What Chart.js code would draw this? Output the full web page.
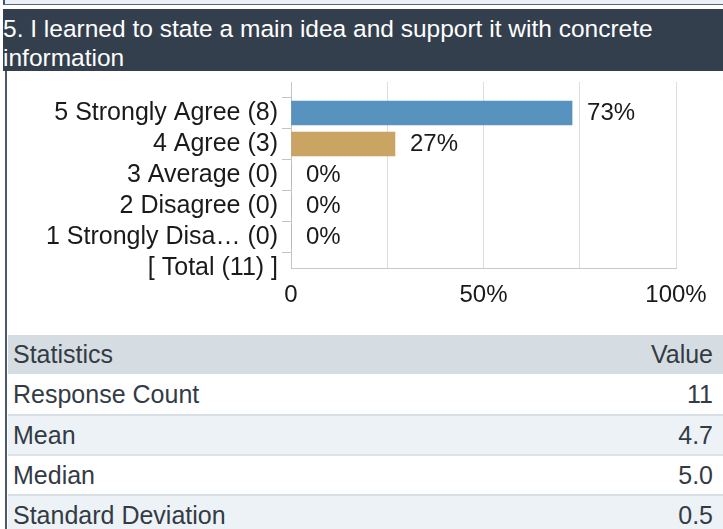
<!DOCTYPE html>
<html>
<head>
<meta charset="utf-8">
<script src="https://cdn.jsdelivr.net/npm/chart.js@4"></script>
<style>
  html, body { margin: 0; padding: 0; background: #fff; }
  body { width: 723px; height: 529px; position: relative; overflow: hidden;
         font-family: "Liberation Sans", Arial, sans-serif; }
  .prev { position: absolute; left: 3px; top: 0; width: 720px; height: 4px;
          background: #eaf0f6; border-left: 2px solid #4a586a; border-bottom: 1px solid #56657a; }
  .head { position: absolute; left: 3px; top: 9px; width: 720px; height: 62px;
          background: #343f4e; color: #fff; font-size: 24.5px; line-height: 29px;
          padding: 5px 0 0 0; box-sizing: border-box; white-space: nowrap; }
  .head span { display: block; }
  .rail { position: absolute; left: 5px; top: 71px; width: 2px; height: 460px; background: #4a586c; }
  .chartbox { position: absolute; left: 0; top: 71px; width: 723px; height: 250px; }
  table { position: absolute; left: 8px; top: 335px; width: 715px; border-collapse: collapse;
          font-size: 25px; color: #333b44; }
  td { padding: 0 10px 0 5px; height: 38px; white-space: nowrap; }
  td.v { text-align: right; }
  tr.th td { background: #d6dde2; height: 39px; }
  tr.w td { background: #ffffff; border-top: 2px solid #dde3e8; }
  tr.l td { background: #edf2f6; border-top: 2px solid #d7dee4; }
  tr.first td { border-top: none; height: 40px; }
</style>
</head>
<body>
<div class="prev"></div>
<div class="head"><span>5. I learned to state a main idea and support it with concrete</span><span>information</span></div>
<div class="rail"></div>
<div class="chartbox"><canvas id="c" width="723" height="250"></canvas></div>
<table>
  <tr class="th"><td>Statistics</td><td class="v">Value</td></tr>
  <tr class="w first"><td>Response Count</td><td class="v">11</td></tr>
  <tr class="l"><td>Mean</td><td class="v">4.7</td></tr>
  <tr class="w"><td>Median</td><td class="v">5.0</td></tr>
  <tr class="l"><td>Standard Deviation</td><td class="v">0.5</td></tr>
</table>
<script>
// Answer options with their response counts, and the share of each
const categories = ['5 Strongly Agree (8)', '4 Agree (3)', '3 Average (0)', '2 Disagree (0)', '1 Strongly Disa\u2026 (0)', '[ Total (11) ]'];
const percents = [73, 27, 0, 0, 0, null];
const barColors = ['#5893bf', '#c9a462', '#9aa', '#9aa', '#9aa', '#9aa'];
const xTickLabels = {0: '0', 50: '50%', 100: '100%'};

// Leading blank slot so the rows sit one step below the top of the plot
const labels = [''].concat(categories);
const values = [null].concat(percents);
const colors = ['#000'].concat(barColors);

const FONT = '"Liberation Sans", Arial, sans-serif';

const valueLabels = {
  id: 'valueLabels',
  afterDatasetsDraw(chart) {
    const ctx = chart.ctx;
    const meta = chart.getDatasetMeta(0);
    ctx.save();
    ctx.font = '24px ' + FONT;
    ctx.fillStyle = '#1a1a1a';
    ctx.textAlign = 'left';
    ctx.textBaseline = 'middle';
    meta.data.forEach((bar, i) => {
      const v = values[i];
      if (v === null || v === undefined) return;
      ctx.fillText(Math.round(v) + '%', bar.x + 15, bar.y);
    });
    ctx.restore();
  }
};

new Chart(document.getElementById('c'), {
  type: 'bar',
  data: {
    labels: labels,
    datasets: [{
      data: values,
      backgroundColor: colors,
      barThickness: 24,
      borderWidth: 0
    }]
  },
  options: {
    indexAxis: 'y',
    responsive: false,
    animation: false,
    events: [],
    layout: { padding: { top: 11, right: 47, bottom: 0, left: 0 } },
    plugins: { legend: { display: false }, tooltip: { enabled: false } },
    scales: {
      x: {
        min: 0, max: 100,
        afterFit(scale) { scale.height = 53; },
        border: { display: true, color: '#c9c9c9', width: 1 },
        grid: { color: '#dddddd', drawTicks: false, lineWidth: 1 },
        ticks: {
          stepSize: 25,
          padding: 13,
          color: '#1a1a1a',
          font: { family: FONT, size: 24 },
          maxRotation: 0,
          autoSkip: false,
          callback: v => (v in xTickLabels ? xTickLabels[v] : '')
        }
      },
      y: {
        offset: false,
        afterFit(scale) {
          scale.width = 291;
          scale.paddingTop = 0;
          scale.paddingBottom = 0;
        },
        border: { display: true, color: '#c4c4c4', width: 1 },
        grid: {
          drawOnChartArea: false,
          drawTicks: true,
          tickLength: 9,
          tickColor: c => (c.index === 0 ? 'rgba(0,0,0,0)' : '#c4c4c4')
        },
        ticks: {
          padding: 4,
          color: '#1a1a1a',
          font: { family: FONT, size: 25 },
          autoSkip: false
        }
      }
    }
  },
  plugins: [valueLabels]
});
</script>
</body>
</html>
